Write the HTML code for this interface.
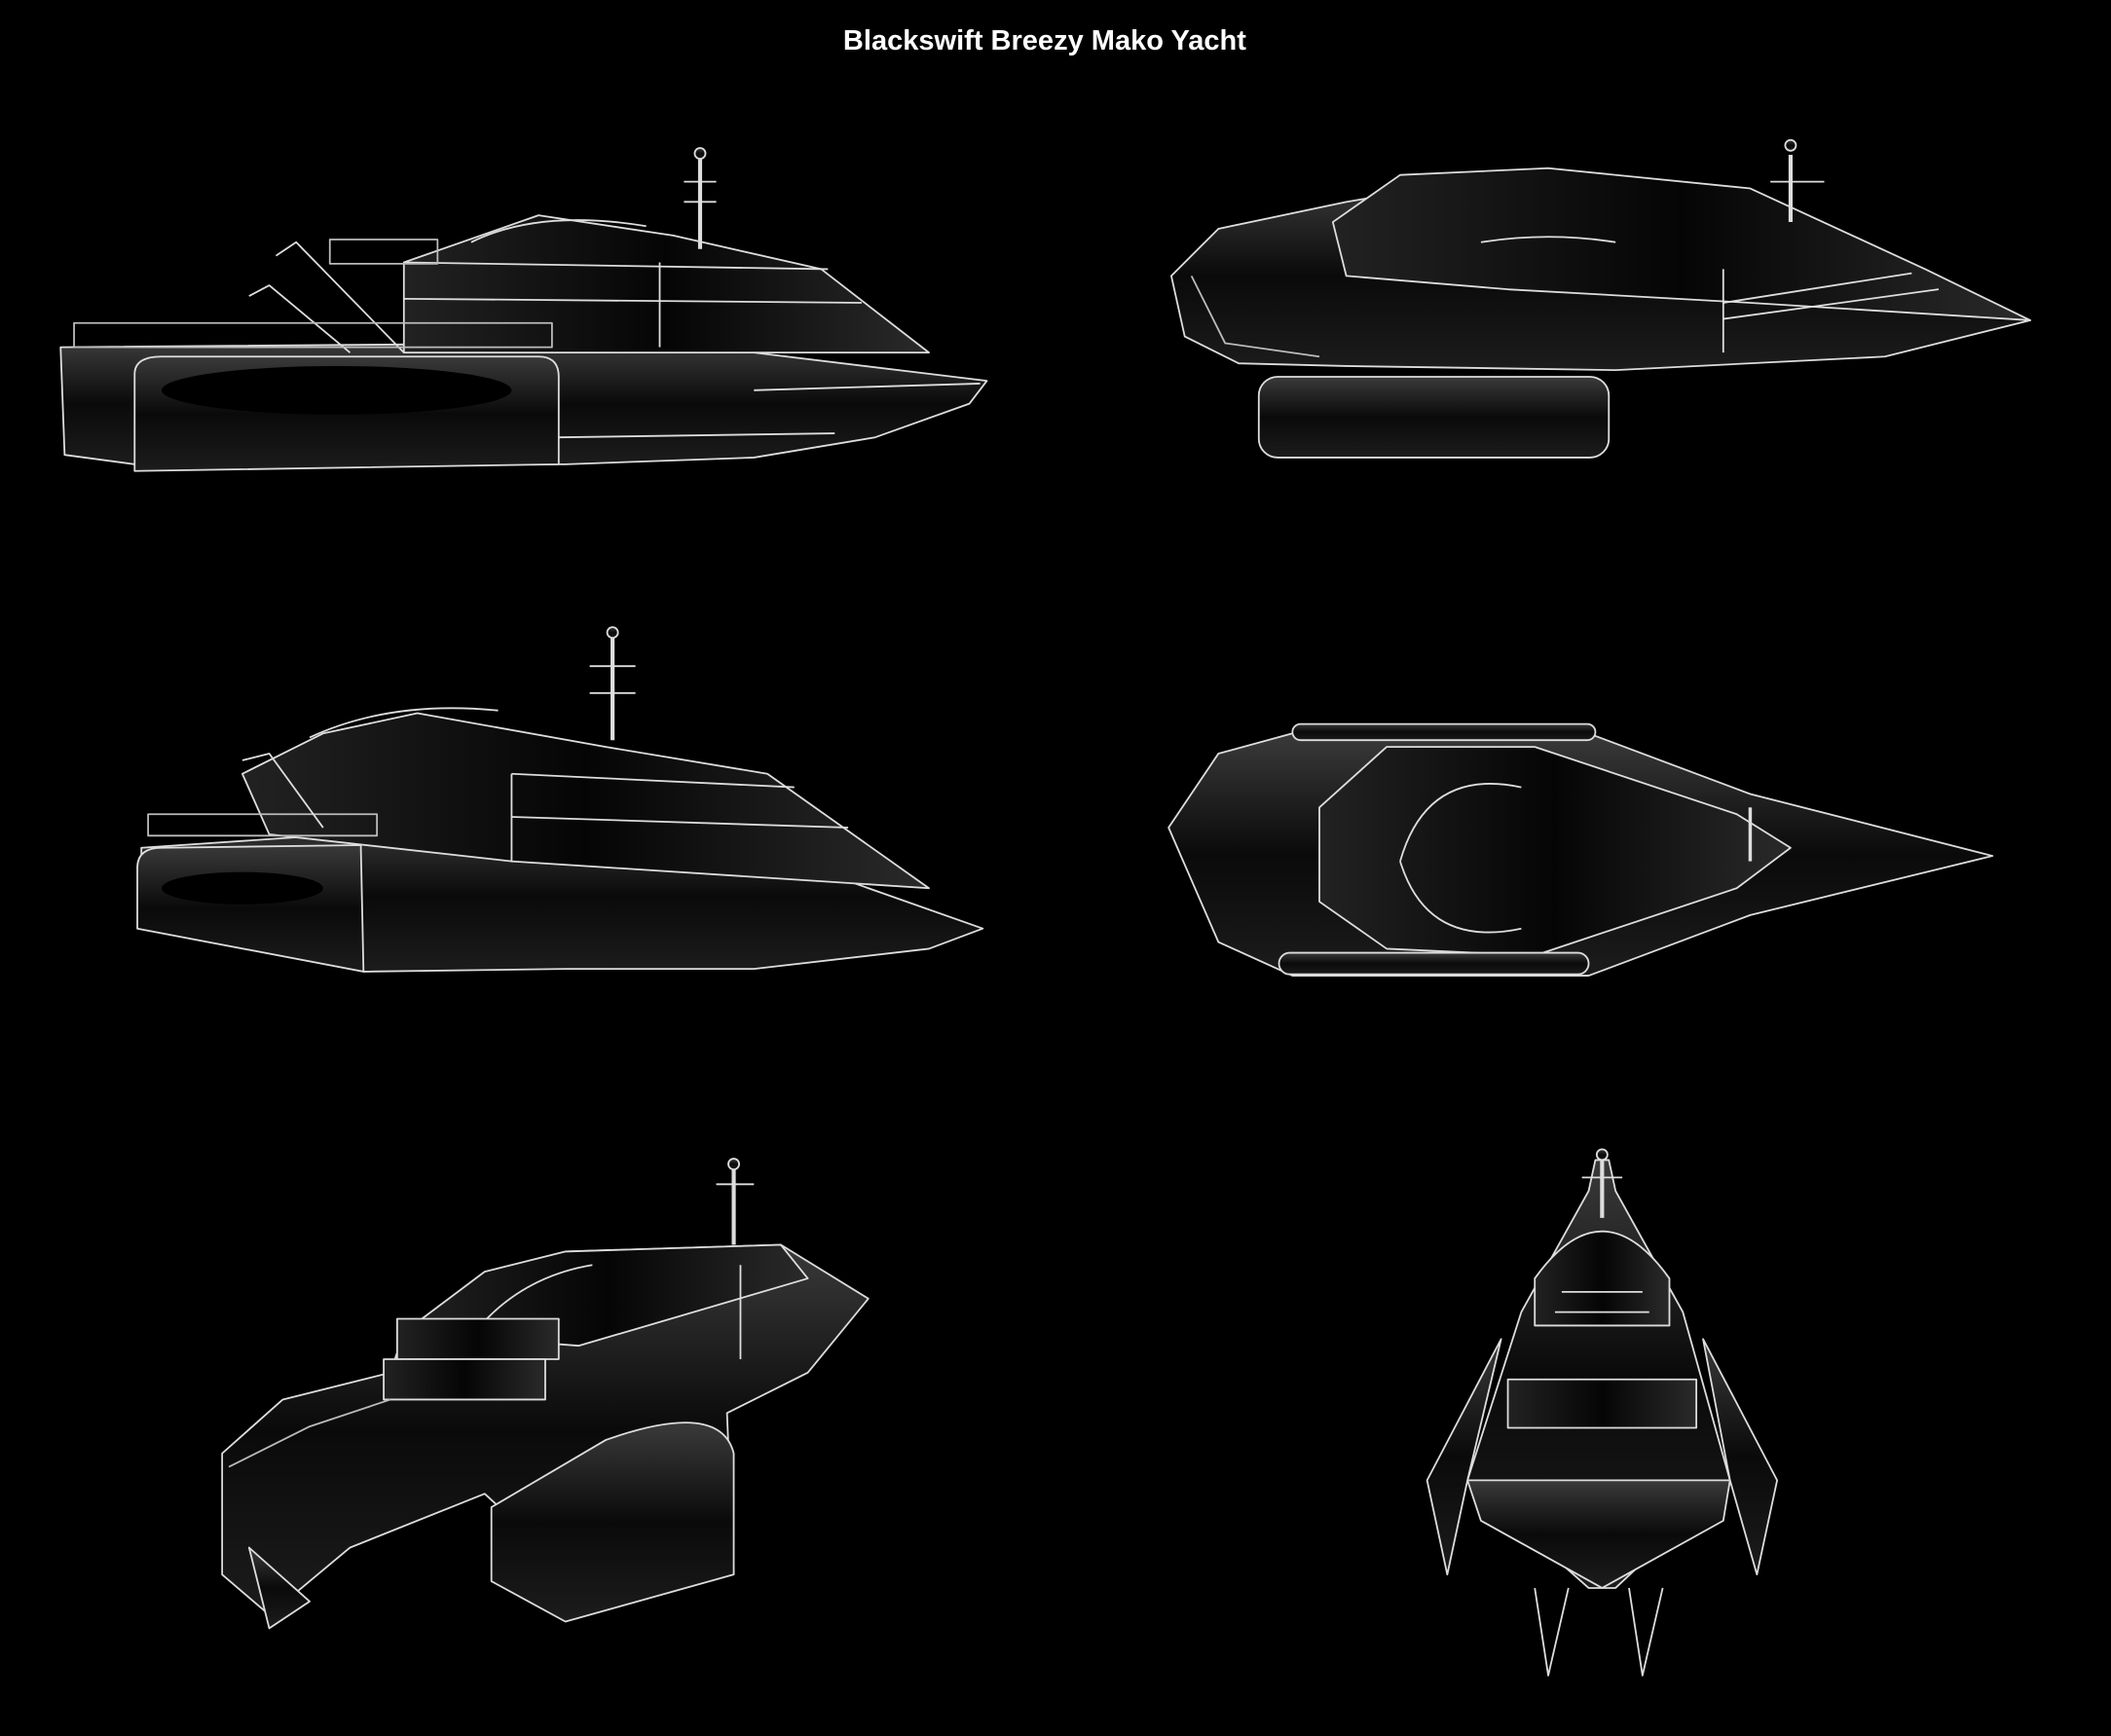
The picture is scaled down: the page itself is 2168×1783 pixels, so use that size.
<!DOCTYPE html>
<html><head><meta charset="utf-8"><style>
html,body{margin:0;padding:0;background:#000;}
svg{display:block}
</style></head><body>
<svg width="2168" height="1783" viewBox="0 0 1568 1290" preserveAspectRatio="none" xmlns="http://www.w3.org/2000/svg">
<defs>
<linearGradient id="g" x1="0" y1="0" x2="0" y2="1"><stop offset="0" stop-color="#3a3a3a"/><stop offset="0.5" stop-color="#0a0a0a"/><stop offset="1" stop-color="#1c1c1c"/></linearGradient>
<linearGradient id="h" x1="0" y1="0" x2="1" y2="0"><stop offset="0" stop-color="#222"/><stop offset="0.5" stop-color="#050505"/><stop offset="1" stop-color="#2a2a2a"/></linearGradient>
</defs>
<rect width="1568" height="1290" fill="#000"/>
<text x="776" y="37" text-anchor="middle" fill="#fff" font-family="Liberation Sans, sans-serif" font-weight="bold" font-size="21">Blackswift Breezy Mako Yacht</text>
<g stroke="#ddd" stroke-width="1.3" fill="url(#g)" stroke-linejoin="round">
<!-- Yacht 1 -->
<path d="M45,258 L420,255 L560,262 L733,283 L720,300 L650,325 L560,340 L420,345 L100,345 L48,338 Z"/>
<path d="M300,240 L300,195 L400,160 L500,175 L610,200 L690,262 L300,262 Z" fill="url(#h)"/>
<path d="M350,180 Q400,155 480,168" fill="none"/>
<line x1="300" y1="222" x2="640" y2="225"/><line x1="300" y1="195" x2="615" y2="200"/><line x1="490" y1="195" x2="490" y2="258"/>
<path d="M205,190 L220,180 L300,262" fill="none"/><path d="M185,220 L200,212 L260,262" fill="none"/>
<rect x="55" y="240" width="355" height="18" fill="none" stroke="#bbb"/>
<rect x="245" y="178" width="80" height="18" fill="none" stroke="#bbb"/>
<line x1="520" y1="112" x2="520" y2="185" stroke-width="3"/><line x1="508" y1="135" x2="532" y2="135"/><line x1="508" y1="150" x2="532" y2="150"/><circle cx="520" cy="114" r="4"/>
<path d="M100,350 L100,278 Q100,265 120,265 L400,265 Q415,265 415,280 L415,345 Z" fill="url(#g)"/>
<ellipse cx="250" cy="290" rx="130" ry="18" fill="#000" stroke="none"/>
<line x1="560" y1="290" x2="728" y2="285"/><line x1="415" y1="325" x2="620" y2="322"/>
<!-- Yacht 2 -->
<path d="M870,205 L905,170 L1000,150 L1090,135 L1250,150 L1340,175 L1508,238 L1400,265 L1200,275 L1000,272 L920,270 L880,250 Z"/>
<path d="M990,165 L1040,130 L1150,125 L1300,140 L1430,200 L1508,238 L1300,225 L1120,215 L1000,205 Z" fill="url(#h)"/>
<path d="M1100,180 Q1150,172 1200,180" fill="none"/>
<line x1="1280" y1="225" x2="1420" y2="203"/><line x1="1280" y1="237" x2="1440" y2="215"/><line x1="1280" y1="200" x2="1280" y2="262"/>
<path d="M885,205 L910,255 L980,265" fill="none" stroke="#bbb"/>
<rect x="935" y="280" width="260" height="60" rx="14"/>
<line x1="1330" y1="115" x2="1330" y2="165" stroke-width="3"/><circle cx="1330" cy="108" r="4"/><line x1="1315" y1="135" x2="1355" y2="135"/>
<!-- Yacht 3 -->
<path d="M105,630 L400,610 L560,630 L730,690 L690,705 L560,720 L420,720 L270,722 L105,690 Z"/>
<path d="M180,575 L240,545 L310,530 L450,555 L570,575 L690,660 L380,640 L200,620 Z" fill="url(#h)"/>
<path d="M230,548 Q290,520 370,528" fill="none"/>
<line x1="380" y1="575" x2="590" y2="585"/><line x1="380" y1="607" x2="630" y2="615"/><line x1="380" y1="575" x2="380" y2="640"/>
<rect x="110" y="605" width="170" height="16" fill="none" stroke="#bbb"/>
<path d="M180,565 L200,560 L240,615" fill="none"/>
<line x1="455" y1="470" x2="455" y2="550" stroke-width="3"/><circle cx="455" cy="470" r="4"/><line x1="438" y1="495" x2="472" y2="495"/><line x1="438" y1="515" x2="472" y2="515"/>
<path d="M102,690 L102,645 Q102,630 120,630 L268,628 L270,722 Z"/>
<ellipse cx="180" cy="660" rx="60" ry="12" fill="#000" stroke="none"/>
<!-- Yacht 4 -->
<path d="M868,615 L905,560 L960,545 L1180,545 L1300,590 L1480,636 L1300,680 L1180,725 L960,725 L905,700 Z"/>
<path d="M980,600 L1030,555 L1140,555 L1290,605 L1330,630 L1290,660 L1140,710 L1030,705 L980,670 Z" fill="url(#h)"/>
<path d="M1040,640 Q1060,570 1130,585 M1040,640 Q1060,705 1130,690" fill="none"/>
<line x1="1300" y1="600" x2="1300" y2="640" stroke-width="2.5"/>
<rect x="960" y="538" width="225" height="12" rx="6"/><rect x="950" y="708" width="230" height="16" rx="8"/>
<!-- Yacht 5 -->
<path d="M165,1080 L210,1040 L290,1020 L300,990 L420,930 L580,925 L645,965 L600,1020 L540,1050 L545,1170 L420,1165 L360,1110 L260,1150 L200,1200 L165,1170 Z"/>
<path d="M300,990 L360,945 L420,930 L580,925 L600,950 L430,1000 Z" fill="url(#h)"/>
<path d="M345,1000 Q380,950 440,940" fill="none"/><line x1="550" y1="940" x2="550" y2="1010"/>
<path d="M365,1120 L450,1070 Q535,1040 545,1080 L545,1170 L420,1205 L365,1175 Z"/>
<rect x="295" y="980" width="120" height="30" fill="url(#h)"/><rect x="285" y="1010" width="120" height="30" fill="url(#h)"/>
<path d="M170,1090 L230,1060 L290,1040" fill="none" stroke="#bbb"/>
<line x1="545" y1="862" x2="545" y2="925" stroke-width="3"/><circle cx="545" cy="865" r="4"/><line x1="532" y1="880" x2="560" y2="880"/>
<path d="M185,1150 L200,1210 L230,1190 Z"/>
<!-- Yacht 6 -->
<path d="M1130,975 L1180,885 L1185,862 L1195,862 L1200,885 L1250,975 L1285,1100 L1200,1180 L1180,1180 L1090,1100 Z"/>
<path d="M1140,985 L1140,950 Q1190,880 1240,950 L1240,985 Z" fill="url(#h)"/>
<path d="M1160,960 L1220,960 M1155,975 L1225,975" fill="none"/>
<rect x="1120" y="1025" width="140" height="36" fill="url(#h)"/>
<path d="M1090,1100 L1285,1100 L1280,1130 L1190,1180 L1100,1130 Z"/>
<path d="M1115,995 L1060,1100 L1075,1170 L1090,1100 Z M1265,995 L1320,1100 L1305,1170 L1285,1100 Z"/>
<path d="M1140,1180 L1150,1245 L1165,1180 M1210,1180 L1220,1245 L1235,1180" fill="none"/>
<line x1="1190" y1="855" x2="1190" y2="905" stroke-width="3"/><circle cx="1190" cy="858" r="4"/><line x1="1175" y1="875" x2="1205" y2="875"/>
</g>
</svg>
</body></html>
